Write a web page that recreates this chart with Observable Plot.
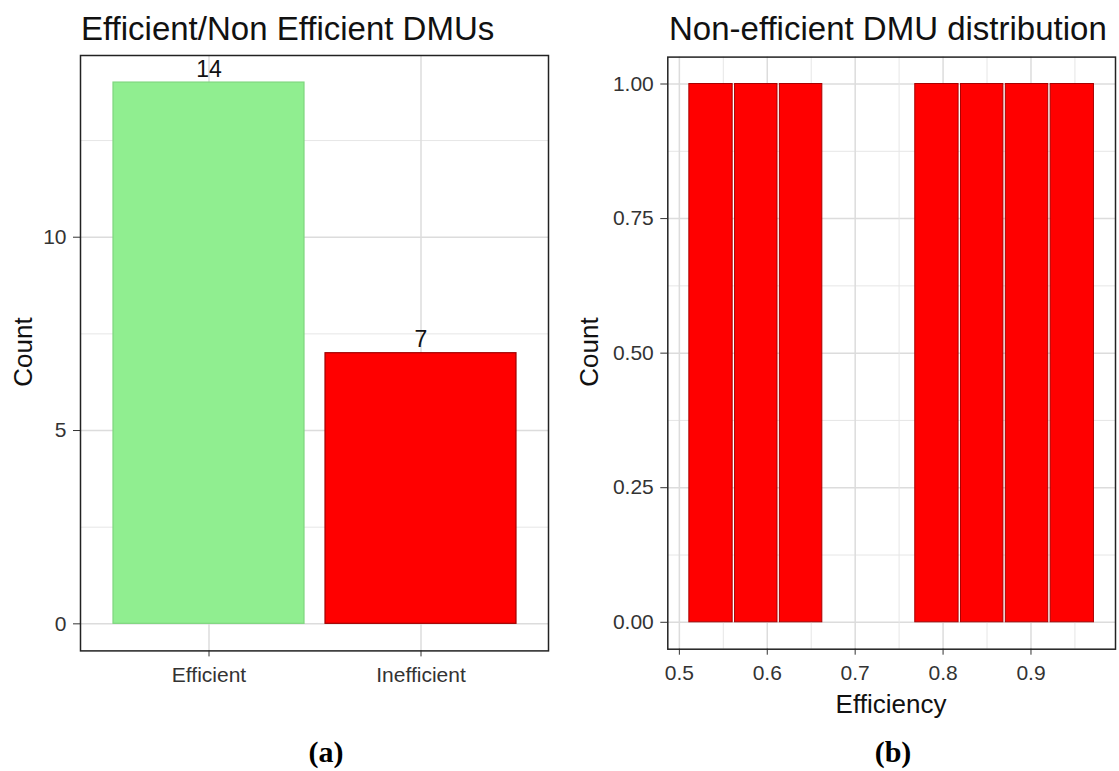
<!DOCTYPE html>
<html>
<head>
<meta charset="utf-8">
<script src="https://cdn.jsdelivr.net/npm/d3@7"></script>
<script src="https://cdn.jsdelivr.net/npm/@observablehq/plot@0.6"></script>
<style>
  html, body { margin: 0; padding: 0; background: #fff; }
  #root { position: relative; width: 1119px; height: 771px; overflow: hidden; background: #fff; }
  #root > svg, #root > div { position: absolute; }
</style>
</head>
<body>
<div id="root"></div>
<script>
// ---- Data ----
const categories = ["Efficient", "Inefficient"];
const counts = [14, 7];
const yTicksA = [0, 5, 10];
const yMinorA = [2.5, 7.5, 12.5];

const binEdges = [0.510, 0.562, 0.613, 0.664, 0.716, 0.767, 0.819, 0.870, 0.921, 0.973];
const binCounts = [1, 1, 1, 0, 0, 1, 1, 1, 1];
const xTicksB = [0.5, 0.6, 0.7, 0.8, 0.9];
const xMinorB = [0.55, 0.65, 0.75, 0.85, 0.95];
const yTicksB = [0, 0.25, 0.5, 0.75, 1];
const yMinorB = [0.125, 0.375, 0.625, 0.875];

const titleA = "Efficient/Non Efficient DMUs";
const titleB = "Non-efficient DMU distribution";
const yLabel = "Count";
const xLabelB = "Efficiency";
const captionA = "(a)";
const captionB = "(b)";

// ---- Styles ----
const FONT = "'Liberation Sans', Arial, Helvetica, sans-serif";
const gridMajor = { stroke: "#dcdcdc", strokeWidth: 1.5 };
const gridMinor = { stroke: "#e6e6e6", strokeWidth: 1 };
const barFills = ["#90EE90", "#FF0000"];
const barStrokes = ["#7fd67f", "#a00000"];

const root = document.getElementById("root");

// ---- Panel (a) ----
const tableA = categories.map((c, i) => ({ category: c, count: counts[i] }));
const maxA = d3.max(counts);
const plotA = Plot.plot({
  width: 560,
  height: 700,
  marginLeft: 80,
  marginRight: 12,
  marginTop: 55,
  marginBottom: 49.6,
  style: { fontFamily: FONT, color: "#333", background: "transparent", overflow: "visible" },
  x: { type: "band", domain: categories, paddingInner: 0.1, paddingOuter: 0.15 },
  y: { domain: [-0.05 * maxA, 1.05 * maxA] },
  marks: [
    Plot.ruleY(yMinorA, gridMinor),
    Plot.ruleY(yTicksA, gridMajor),
    Plot.gridX({ ...gridMajor, strokeOpacity: 1 }),
    ...tableA.map((d, i) => Plot.barY([d], { x: "category", y: "count", fill: barFills[i], stroke: barStrokes[i], strokeWidth: 1.2 })),
    Plot.text(tableA, { x: "category", y: "count", text: (d) => String(d.count), lineAnchor: "bottom", dy: -6, fontSize: 23, fill: "#111" }),
    Plot.axisY({ ticks: yTicksA, tickSize: 7, tickPadding: 7, fontSize: 21, label: null, stroke: "#333" }),
    Plot.axisX({ tickSize: 6, tickPadding: 10, fontSize: 21, label: null, stroke: "#333" }),
    Plot.frame({ stroke: "#222", strokeWidth: 1.5 })
  ]
});
plotA.style.left = "0px";
plotA.style.top = "0px";
root.appendChild(plotA);

// ---- Panel (b) ----
const bins = binCounts.map((c, i) => ({ x0: binEdges[i], x1: binEdges[i + 1], count: c }));
const lo = d3.min(binEdges), hi = d3.max(binEdges), pad = 0.05 * (hi - lo);
const maxB = d3.max(binCounts);
const plotB = Plot.plot({
  width: 559,
  height: 700,
  marginLeft: 107.3,
  marginRight: 4,
  marginTop: 56.6,
  marginBottom: 51.3,
  style: { fontFamily: FONT, color: "#333", background: "transparent", overflow: "visible" },
  x: { domain: [lo - pad, hi + pad] },
  y: { domain: [-0.05 * maxB, 1.05 * maxB] },
  marks: [
    Plot.ruleY(yMinorB, gridMinor),
    Plot.ruleY(yTicksB, gridMajor),
    Plot.ruleX(xMinorB, gridMinor),
    Plot.ruleX(xTicksB, gridMajor),
    Plot.rectY(bins.filter((d) => d.count > 0), {
      x1: "x0", x2: "x1", y: "count",
      fill: "#FF0000", stroke: "#a80000", strokeWidth: 1,
      insetLeft: 1.2, insetRight: 1.2
    }),
    Plot.axisY({ ticks: yTicksB, tickFormat: d3.format(".2f"), tickSize: 7, tickPadding: 7, fontSize: 21, label: null, stroke: "#333" }),
    Plot.axisX({ ticks: xTicksB, tickFormat: d3.format(".1f"), tickSize: 6, tickPadding: 10, fontSize: 21, label: null, stroke: "#333" }),
    Plot.frame({ stroke: "#222", strokeWidth: 1.5 })
  ]
});
plotB.style.left = "560px";
plotB.style.top = "0px";
root.appendChild(plotB);

// ---- Titles, axis titles, captions ----
const overlay = d3.create("svg")
  .attr("width", 1119).attr("height", 771)
  .style("left", "0px").style("top", "0px")
  .style("pointer-events", "none")
  .style("font-family", FONT);

overlay.append("text").attr("x", 81).attr("y", 40).attr("font-size", 33).attr("fill", "#111").text(titleA);
overlay.append("text").attr("x", 669).attr("y", 40).attr("font-size", 33).attr("fill", "#111").text(titleB);

overlay.append("text").attr("transform", "translate(32,352) rotate(-90)").attr("text-anchor", "middle")
  .attr("font-size", 26).attr("fill", "#111").text(yLabel);
overlay.append("text").attr("transform", "translate(598,352) rotate(-90)").attr("text-anchor", "middle")
  .attr("font-size", 26).attr("fill", "#111").text(yLabel);
overlay.append("text").attr("x", 891).attr("y", 713).attr("text-anchor", "middle")
  .attr("font-size", 26).attr("fill", "#111").text(xLabelB);

overlay.append("text").attr("x", 326).attr("y", 762).attr("text-anchor", "middle")
  .attr("font-family", "'Liberation Serif', 'Times New Roman', serif").attr("font-weight", "bold")
  .attr("font-size", 30).attr("fill", "#000").text(captionA);
overlay.append("text").attr("x", 893).attr("y", 762).attr("text-anchor", "middle")
  .attr("font-family", "'Liberation Serif', 'Times New Roman', serif").attr("font-weight", "bold")
  .attr("font-size", 30).attr("fill", "#000").text(captionB);

root.appendChild(overlay.node());
</script>
</body>
</html>
